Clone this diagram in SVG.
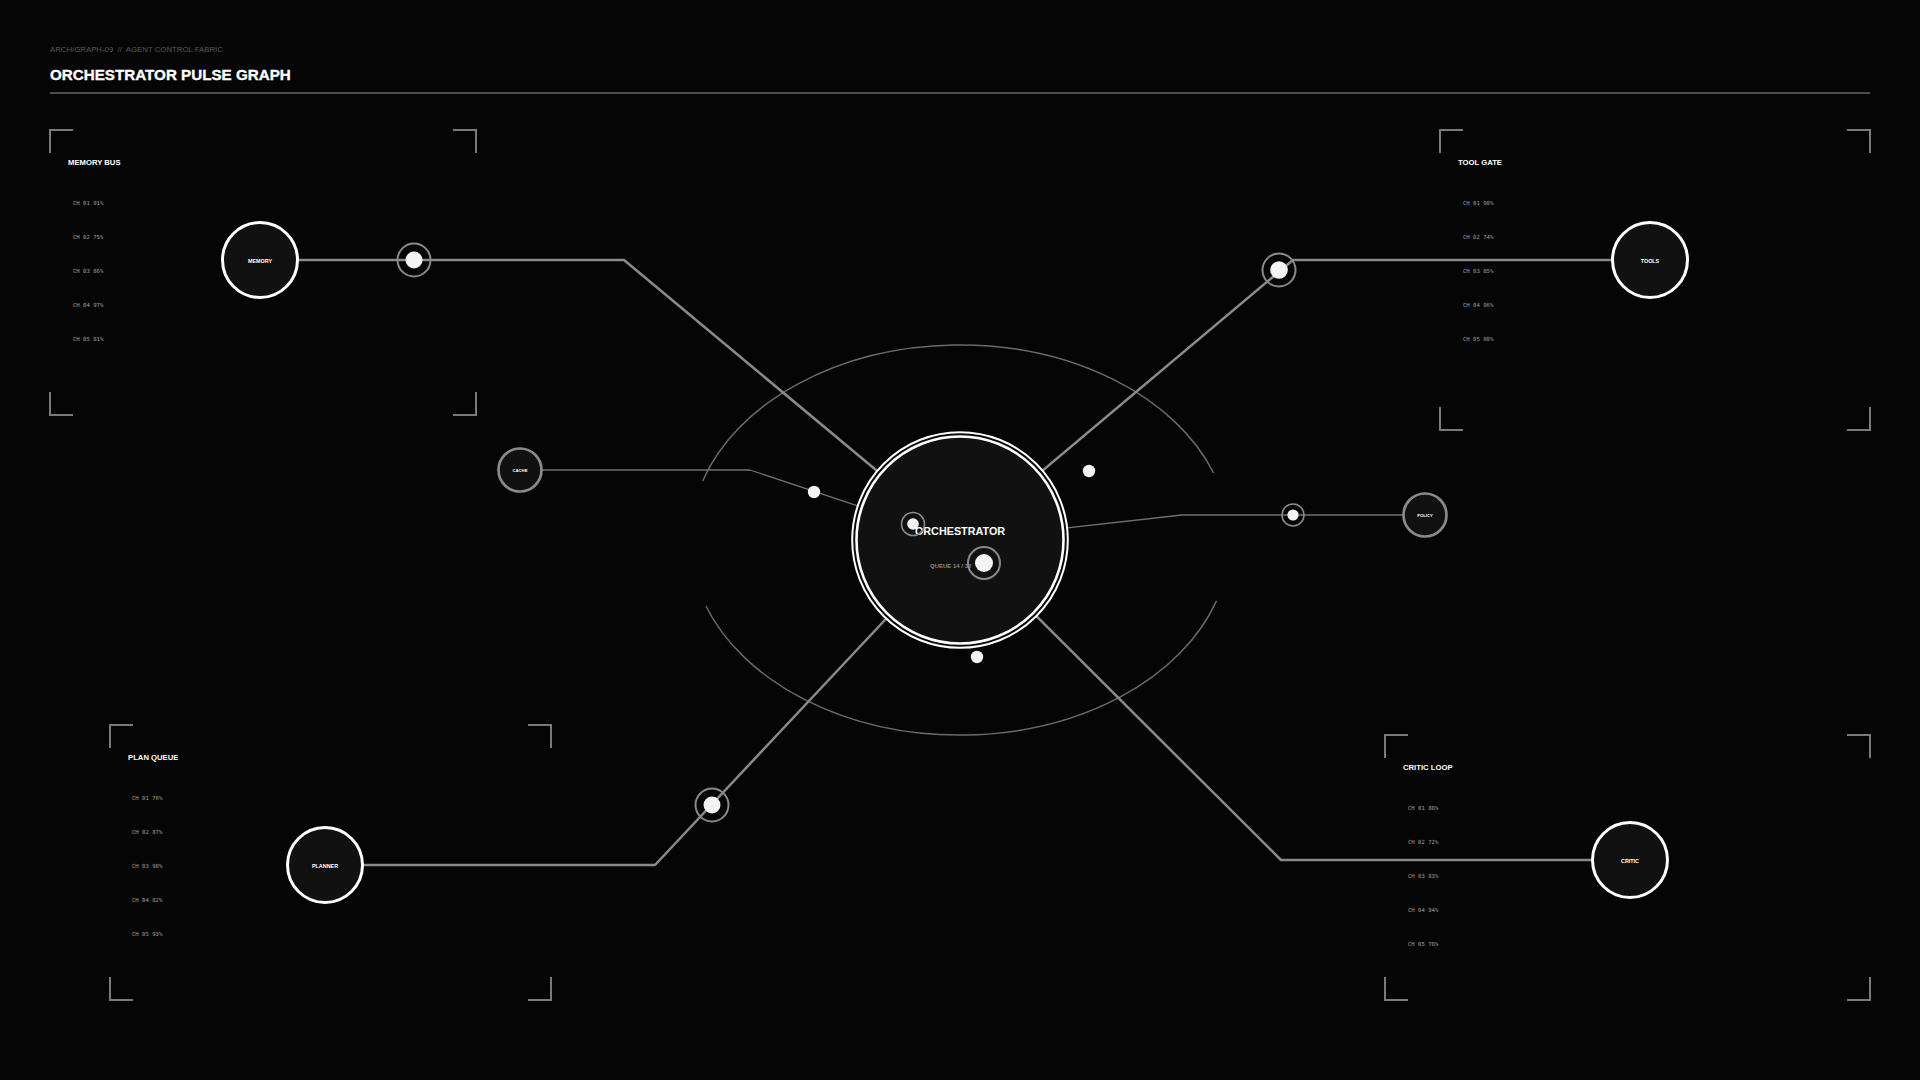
<svg xmlns="http://www.w3.org/2000/svg" width="1920" height="1080" viewBox="0 0 1920 1080">
<style>
  .hdr-sub{font-family:"Liberation Sans",Arial,sans-serif;font-size:7.8px;fill:#5a5a5a;white-space:pre;}
  .hdr-title{font-family:"Liberation Sans",Arial,sans-serif;font-size:15.2px;font-weight:bold;fill:#ffffff;stroke:#ffffff;stroke-width:0.35;}
  .bracket{fill:none;stroke:#7a7a7a;stroke-width:2;}
  .ptitle{font-family:"Liberation Sans",Arial,sans-serif;font-size:7.7px;font-weight:bold;fill:#ffffff;}
  .ch{font-family:"DejaVu Sans Mono","Liberation Mono",monospace;font-size:5.6px;fill:#a0a0a0;}
  .orbit{fill:none;stroke:#6a6a6a;stroke-width:1.5;}
  .wire{fill:none;stroke:#8a8a8a;stroke-width:2.5;stroke-linejoin:round;}
  .thin{fill:none;stroke:#707070;stroke-width:1.3;stroke-linejoin:round;}
  .node-main{fill:#111111;stroke:#ffffff;stroke-width:3;}
  .node-minor{fill:#111111;stroke:#8a8a8a;stroke-width:2.7;}
  .nlabel{font-family:"Liberation Sans",Arial,sans-serif;font-size:5.4px;font-weight:bold;fill:#ffffff;text-anchor:middle;}
  .nlabel-s{font-family:"Liberation Sans",Arial,sans-serif;font-size:4.2px;font-weight:bold;fill:#ffffff;text-anchor:middle;}
  .ring{fill:none;stroke:#8a8a8a;stroke-width:2;}
  .ring-s{fill:none;stroke:#8a8a8a;stroke-width:1.6;}
  .dot{fill:#f4f4f4;}
</style>
<rect x="0" y="0" width="1920" height="1080" fill="#050505"/>

<g id="header">
  <text class="hdr-sub" x="50" y="52" xml:space="preserve">ARCH/GRAPH-09  //  AGENT CONTROL FABRIC</text>
  <text class="hdr-title" x="50" y="80">ORCHESTRATOR PULSE GRAPH</text>
  <line x1="50" y1="93" x2="1870" y2="93" stroke="#666666" stroke-width="1.5"/>
</g>

<g id="panel-memory-bus">
  <path class="bracket" d="M50 153 V130 H73 M453 130 H476 V153 M50 392 V415 H73 M453 415 H476 V392"/>
  <text class="ptitle" x="68" y="165">MEMORY BUS</text>
  <text class="ch" x="73" y="205">CH 01 91%</text>
  <text class="ch" x="73" y="239">CH 02 75%</text>
  <text class="ch" x="73" y="273">CH 03 86%</text>
  <text class="ch" x="73" y="307">CH 04 97%</text>
  <text class="ch" x="73" y="341">CH 05 81%</text>
</g>

<g id="panel-tool-gate">
  <path class="bracket" d="M1440 153 V130 H1463 M1847 130 H1870 V153 M1440 407 V430 H1463 M1847 430 H1870 V407"/>
  <text class="ptitle" x="1458" y="165">TOOL GATE</text>
  <text class="ch" x="1463" y="205">CH 01 90%</text>
  <text class="ch" x="1463" y="239">CH 02 74%</text>
  <text class="ch" x="1463" y="273">CH 03 85%</text>
  <text class="ch" x="1463" y="307">CH 04 96%</text>
  <text class="ch" x="1463" y="341">CH 05 80%</text>
</g>

<g id="panel-plan-queue">
  <path class="bracket" d="M110 748 V725 H133 M528 725 H551 V748 M110 977 V1000 H133 M528 1000 H551 V977"/>
  <text class="ptitle" x="128" y="760">PLAN QUEUE</text>
  <text class="ch" x="132" y="800">CH 01 76%</text>
  <text class="ch" x="132" y="834">CH 02 87%</text>
  <text class="ch" x="132" y="868">CH 03 98%</text>
  <text class="ch" x="132" y="902">CH 04 82%</text>
  <text class="ch" x="132" y="936">CH 05 93%</text>
</g>

<g id="panel-critic-loop">
  <path class="bracket" d="M1385 758 V735 H1408 M1847 735 H1870 V758 M1385 977 V1000 H1408 M1847 1000 H1870 V977"/>
  <text class="ptitle" x="1403" y="770">CRITIC LOOP</text>
  <text class="ch" x="1408" y="810">CH 01 88%</text>
  <text class="ch" x="1408" y="844">CH 02 72%</text>
  <text class="ch" x="1408" y="878">CH 03 83%</text>
  <text class="ch" x="1408" y="912">CH 04 94%</text>
  <text class="ch" x="1408" y="946">CH 05 78%</text>
</g>

<g id="orbit">
  <path class="orbit" d="M702.6 481 A270 195 0 0 1 1213.6 473"/>
  <path class="orbit" d="M1216.5 600.9 A270 195 0 0 1 705.9 606"/>
</g>

<g id="connectors">
  <polyline class="wire" points="260,260 624,260 960,540"/>
  <polyline class="wire" points="1650,260 1293,260 960,540"/>
  <polyline class="wire" points="325,865 655,865 960,540"/>
  <polyline class="wire" points="1630,860 1281,860 960,540"/>
  <polyline class="thin" points="520,470 750,470 960,540"/>
  <polyline class="thin" points="1425,515 1182,515 960,540"/>
</g>

<g id="node-orchestrator">
  <circle cx="960" cy="540" r="107.8" fill="#0b0b0b" stroke="#ffffff" stroke-width="2"/>
  <circle cx="960" cy="540" r="103.5" fill="#111111" stroke="#ffffff" stroke-width="2.6"/>
  <text x="960" y="535" text-anchor="middle" font-family="'Liberation Sans',Arial,sans-serif" font-size="10.8" font-weight="bold" fill="#ffffff">ORCHESTRATOR</text>
  <text x="930" y="568" font-family="'Liberation Sans',Arial,sans-serif" font-size="6" font-weight="bold" fill="#8a8a8a">QUEUE 14 / 32</text>
</g>

<g id="node-memory">
  <circle class="node-main" cx="260" cy="260" r="37.5"/>
  <text class="nlabel" x="260" y="263">MEMORY</text>
</g>
<g id="node-tools">
  <circle class="node-main" cx="1650" cy="260" r="37.5"/>
  <text class="nlabel" x="1650" y="263">TOOLS</text>
</g>
<g id="node-planner">
  <circle class="node-main" cx="325" cy="865" r="37.5"/>
  <text class="nlabel" x="325" y="868">PLANNER</text>
</g>
<g id="node-critic">
  <circle class="node-main" cx="1630" cy="860" r="37.5"/>
  <text class="nlabel" x="1630" y="863">CRITIC</text>
</g>
<g id="node-cache">
  <circle class="node-minor" cx="520" cy="470" r="21.5"/>
  <text class="nlabel-s" x="520" y="472">CACHE</text>
</g>
<g id="node-policy">
  <circle class="node-minor" cx="1425" cy="515" r="21.5"/>
  <text class="nlabel-s" x="1425" y="517">POLICY</text>
</g>

<g id="pulses">
  <circle class="ring" cx="414" cy="260" r="16.5"/>
  <circle class="dot" cx="414" cy="260" r="8.5"/>
  <circle class="ring" cx="1279" cy="270" r="16.5"/>
  <circle class="dot" cx="1279" cy="270" r="8.8"/>
  <circle class="ring" cx="712" cy="805" r="16.5"/>
  <circle class="dot" cx="712" cy="805" r="8.5"/>
  <circle class="ring" cx="984" cy="563" r="16"/>
  <circle class="dot" cx="984" cy="563" r="9"/>
  <circle class="ring-s" cx="913" cy="524" r="11.5"/>
  <circle class="dot" cx="913" cy="524" r="5.8"/>
  <circle class="ring-s" cx="1293" cy="515" r="11"/>
  <circle class="dot" cx="1293" cy="515" r="5.6"/>
  <circle class="dot" cx="814" cy="492" r="6.2"/>
  <circle class="dot" cx="1089" cy="471" r="6.2"/>
  <circle class="dot" cx="977" cy="657" r="6.2"/>
</g>
</svg>
